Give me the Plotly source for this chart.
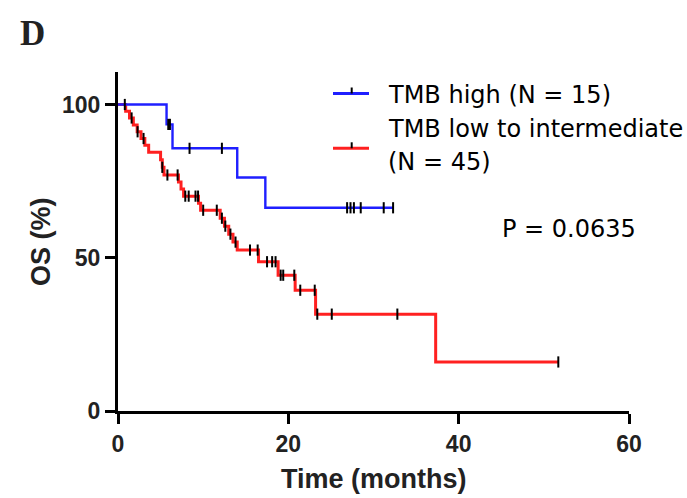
import plotly.graph_objects as go

# ---------------- data ----------------
# TMB high (N = 15): times of deaths (months) and survival (%) after each drop
high_event_t = [5.7, 6.4, 14.0, 17.3]
high_surv = [93.5, 85.7, 76.2, 66.3]
high_censor_t = [5.9, 6.1, 8.4, 12.2, 26.9, 27.3, 27.7, 28.5, 31.2, 32.3]
high_end = 32.4

# TMB low to intermediate (N = 45)
low_event_t = [0.9, 1.35, 1.8, 2.25, 2.7, 3.15, 3.6,
               5.0, 5.2, 5.4,
               7.1, 7.4, 7.7,
               9.45, 9.7,
               12.0, 12.5, 13.0, 13.5, 14.0,
               16.5, 18.8, 20.8, 23.2, 37.3]
low_surv = [97.8, 95.6, 93.3, 91.1, 88.9, 86.7, 84.4,
            82.0, 79.5, 77.0,
            74.7, 72.4, 70.1,
            67.8, 65.5,
            62.9, 60.3, 57.7, 55.1, 52.5,
            48.7, 44.3, 39.4, 31.6, 16.0]
low_censor_t = [0.8, 1.6, 2.3, 3.0, 5.2, 5.8, 7.0, 7.9, 8.3, 9.1, 9.4, 10.0,
                11.6, 12.2, 12.6, 13.2, 13.8, 15.5, 16.4, 17.5, 18.1, 18.5,
                19.1, 19.4, 20.7, 21.4, 23.1, 23.4, 25.1, 32.8, 51.7]
low_end = 51.7

x_ticks = [0, 20, 40, 60]
y_ticks = [0, 50, 100]

names = ["TMB high (N = 15)", "TMB low to intermediate", "(N = 45)"]
p_text = "P = 0.0635"

# ---------------- helpers ----------------
def step_xy(ev_t, ev_s, end):
    xs = [0] + list(ev_t) + [end]
    ys = [100] + list(ev_s) + [ev_s[-1]]
    return xs, ys

def surv_at(t, ev_t, ev_s):
    s = 100
    for et, es in zip(ev_t, ev_s):
        if et <= t:
            s = es
    return s

W, H = 687, 498
L, R, T, B = 118, 58, 72, 87

def px(xp):
    return (xp - L) / (W - L - R)

def py(yp):
    return (H - B - yp) / (H - T - B)

BLUE = "#1f1fff"
RED = "#ff2020"

fig = go.Figure()

lx, ly = step_xy(low_event_t, low_surv, low_end)
fig.add_trace(go.Scatter(x=lx, y=ly, mode="lines", line=dict(color=RED, width=3, shape="hv"),
                         showlegend=False, hoverinfo="skip"))
hx, hy = step_xy(high_event_t, high_surv, high_end)
fig.add_trace(go.Scatter(x=hx, y=hy, mode="lines", line=dict(color=BLUE, width=2.4, shape="hv"),
                         showlegend=False, hoverinfo="skip"))

for ct, et, es in [(low_censor_t, low_event_t, low_surv), (high_censor_t, high_event_t, high_surv)]:
    fig.add_trace(go.Scatter(
        x=ct, y=[surv_at(t, et, es) for t in ct], mode="markers",
        marker=dict(symbol="line-ns", size=8, line=dict(color="black", width=2)),
        showlegend=False, hoverinfo="skip", cliponaxis=False))

axis_common = dict(showline=True, linecolor="black", linewidth=3, ticks="outside",
                   ticklen=10, tickwidth=3, tickcolor="black", showgrid=False, zeroline=False,
                   tickfont=dict(family="Liberation Sans", size=23, color="#222", weight="bold"))

fig.update_xaxes(range=[0, 60], tickvals=x_ticks, **axis_common)
fig.update_yaxes(range=[0, 110.6], tickvals=y_ticks, **axis_common)

shapes = []
annotations = []
# legend
for yline, col in [(93.5, BLUE), (148.3, RED)]:
    shapes.append(dict(type="line", xref="paper", yref="paper", x0=px(333), x1=px(369),
                       y0=py(yline), y1=py(yline), line=dict(color=col, width=3)))
    shapes.append(dict(type="line", xref="paper", yref="paper", x0=px(351.7), x1=px(351.7),
                       y0=py(yline - 6), y1=py(yline), line=dict(color="black", width=2)))
leg_font = dict(family="DejaVu Sans", size=24, color="black")
for txt, yc in [(names[0], 95), (names[1], 129), (names[2], 162)]:
    annotations.append(dict(text=txt, xref="paper", yref="paper", x=px(386), y=py(yc),
                            xanchor="left", yanchor="middle", showarrow=False, font=leg_font))
annotations.append(dict(text=p_text, xref="paper", yref="paper", x=px(500), y=py(229),
                        xanchor="left", yanchor="middle", showarrow=False, font=leg_font))
# axis titles
title_font = dict(family="Liberation Sans", size=27, color="#222", weight="bold")
annotations.append(dict(text="Time (months)", xref="paper", yref="paper", x=px(374), y=py(479),
                        xanchor="center", yanchor="middle", showarrow=False, font=title_font))
annotations.append(dict(text="OS (%)", xref="paper", yref="paper", x=px(41), y=py(242),
                        xanchor="center", yanchor="middle", showarrow=False, textangle=-90,
                        font=title_font))
# panel letter
annotations.append(dict(text="D", xref="paper", yref="paper", x=px(32), y=py(33),
                        xanchor="center", yanchor="middle", showarrow=False,
                        font=dict(family="Liberation Serif", size=35, color="#222", weight="bold")))

fig.update_layout(width=W, height=H, margin=dict(l=L, r=R, t=T, b=B),
                  plot_bgcolor="white", paper_bgcolor="white",
                  shapes=shapes, annotations=annotations, showlegend=False)

fig.write_html("out.html", config={"displayModeBar": False},
               post_script="document.body.style.margin='0';document.body.style.padding='0';document.body.style.overflow='hidden';")
